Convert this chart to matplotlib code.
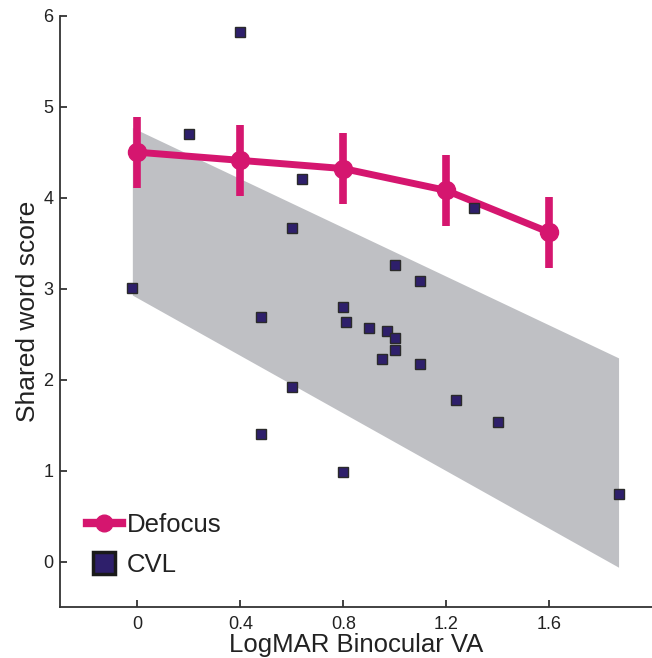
import numpy as np
import matplotlib
matplotlib.use("Agg")
from matplotlib import pyplot as plt
from matplotlib.lines import Line2D

# CVL individual scores
cvl_x = [0.40, 0.20, 0.64, 0.60, -0.02, 0.48, 1.00, 1.10, 0.80, 0.81, 0.90,
         0.97, 1.00, 1.00, 0.95, 1.10, 1.24, 1.40, 1.31, 0.60, 0.48, 0.80, 1.87]
cvl_y = [5.82, 4.70, 4.20, 3.67, 3.01, 2.69, 3.26, 3.08, 2.80, 2.63, 2.57,
         2.54, 2.46, 2.33, 2.23, 2.17, 1.78, 1.54, 3.89, 1.92, 1.40, 0.99, 0.74]

# Defocus means and error
defocus_x = [0.0, 0.4, 0.8, 1.2, 1.6]
defocus_y = [4.50, 4.41, 4.32, 4.08, 3.62]
defocus_err = [0.39, 0.39, 0.39, 0.39, 0.39]

# shaded band
band_x = [-0.02, 1.87]
band_upper = [4.77, 2.24]
band_lower = [2.93, -0.06]

xticks = [0, 0.4, 0.8, 1.2, 1.6]
xticklabels = ["0", "0.4", "0.8", "1.2", "1.6"]
yticks = [0, 1, 2, 3, 4, 5, 6]

pink = "#D5166F"
navy = "#2E1F6B"
edge = "#2a2a2a"
text_c = "#222222"

plt.rcParams["font.family"] = ["Liberation Sans", "DejaVu Sans"]

fig = plt.figure(figsize=(6.52, 6.58), dpi=100)
ax = fig.add_axes([0.0925, 0.0771, 0.9075, 0.8991])

ax.fill_between(band_x, band_lower, band_upper, color="#BFC0C4", lw=0, zorder=1)

ax.errorbar(defocus_x, defocus_y, yerr=defocus_err, color=pink, lw=5,
            elinewidth=5.5, capsize=0, marker="o", markersize=13, zorder=2)

ax.plot(cvl_x, cvl_y, ls="none", marker="s", markersize=7.5,
        markerfacecolor=navy, markeredgecolor=edge, markeredgewidth=1.0, zorder=3)

ax.set_xlim(-0.3, 2.0)
ax.set_ylim(-0.5, 6)
ax.set_xticks(xticks)
ax.set_xticklabels(xticklabels)
ax.set_yticks(yticks)

for s in ["top", "right"]:
    ax.spines[s].set_visible(False)
for s in ["left", "bottom"]:
    ax.spines[s].set_linewidth(1.3)
    ax.spines[s].set_color("#333333")

ax.tick_params(direction="in", length=5, width=1.3, colors="#333333",
               labelsize=13, labelcolor=text_c)
ax.tick_params(axis="x", pad=6.5)
ax.tick_params(axis="y", pad=5)

ax.set_xlabel("LogMAR Binocular VA", fontsize=18.5, color=text_c, labelpad=0)
ax.set_ylabel("Shared word score", fontsize=19, color=text_c, labelpad=2)

handles = [
    Line2D([], [], color=pink, lw=6, marker="o", markersize=12),
    Line2D([], [], ls="none", marker="s", markersize=16,
           markerfacecolor=navy, markeredgecolor="#1a1a1a", markeredgewidth=2.5),
]
leg = ax.legend(handles, ["Defocus", "CVL"], loc="lower left",
                bbox_to_anchor=(0.045, 0.052), frameon=False, fontsize=18.5,
                handlelength=1.35, handletextpad=0.2, labelspacing=0.6,
                borderpad=0, borderaxespad=0)
for t in leg.get_texts():
    t.set_color(text_c)

fig.savefig("out.png", dpi=100)
